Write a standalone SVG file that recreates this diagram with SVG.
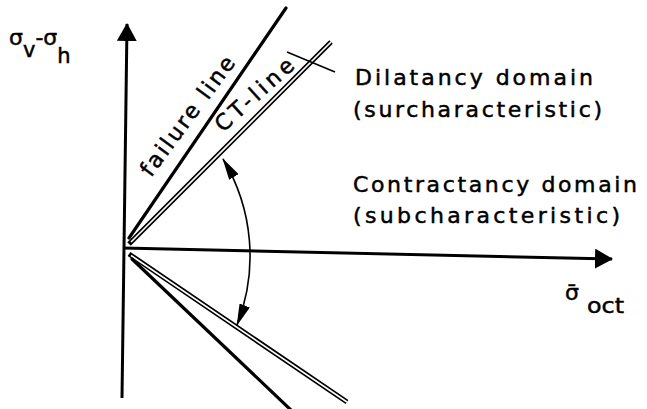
<svg xmlns="http://www.w3.org/2000/svg" width="647" height="409" viewBox="0 0 647 409">
  <style>
    .lbl { font-family: "DejaVu Sans", "Liberation Sans", sans-serif; font-size: 22px; fill: #000; stroke: #000; stroke-width: 0.5; }
    .axis { stroke: #000; stroke-width: 3; fill: none; }
    .thick { stroke: #000; stroke-width: 3.2; fill: none; stroke-linecap: round; }
    .dblo { stroke: #000; stroke-width: 5; fill: none; }
    .dbli { stroke: #fff; stroke-width: 1.6; fill: none; }
    .thin { stroke: #000; stroke-width: 1.6; fill: none; }
  </style>
  <defs>
    <marker id="axisHead" markerUnits="userSpaceOnUse" viewBox="0 0 18 20" refX="17" refY="10" markerWidth="18" markerHeight="20" orient="auto">
      <path d="M0,0 L18,10 L0,20 z" fill="#000"/>
    </marker>
    <marker id="arcHead" markerUnits="userSpaceOnUse" viewBox="0 0 22 11" refX="21" refY="5.5" markerWidth="22" markerHeight="11" orient="auto-start-reverse">
      <path d="M0,0 L22,5.5 L0,11 z" fill="#000"/>
    </marker>
  </defs>
  <rect width="647" height="409" fill="#fff"/>

  <g id="connectors">
    <!-- axes -->
    <line class="axis" x1="122" y1="398" x2="127" y2="24" marker-end="url(#axisHead)"/>
    <line class="axis" x1="123" y1="248" x2="612" y2="259" marker-end="url(#axisHead)"/>
    <!-- failure line (upper) -->
    <line class="thick" x1="129" y1="238" x2="286" y2="8"/>
    <!-- CT-line (upper, double) -->
    <line class="dblo" x1="129" y1="244" x2="331" y2="42"/>
    <line class="dbli" x1="131" y1="242" x2="331" y2="42"/>
    <!-- tick across CT-line -->
    <line class="thin" x1="287" y1="52" x2="335" y2="72"/>
    <!-- lower double line -->
    <line class="dblo" x1="129" y1="254" x2="347" y2="402"/>
    <line class="dbli" x1="131" y1="255.5" x2="347" y2="402"/>
    <!-- lower failure line -->
    <line class="thick" x1="132" y1="259" x2="292" y2="411"/>
    <!-- angle arc with arrowheads -->
    <path class="thin" d="M223,159 A188,188 0 0 1 237,325" marker-start="url(#arcHead)" marker-end="url(#arcHead)"/>
  </g>

  <g id="yaxis-label">
    <text class="lbl" x="9" y="45" font-size="25">σ<tspan dy="12" font-size="21">v</tspan><tspan dy="-12">-σ</tspan><tspan dy="18" font-size="21">h</tspan></text>
  </g>
  <g id="xaxis-label">
    <text class="lbl" x="565" y="300" font-size="25">σ̄</text>
    <text class="lbl" x="587" y="313" textLength="37" lengthAdjust="spacingAndGlyphs">oct</text>
  </g>
  <g id="failure-line-label">
    <text class="lbl" font-size="21" transform="translate(151,178) rotate(-53.5)" textLength="143" lengthAdjust="spacing">failure line</text>
  </g>
  <g id="ct-line-label">
    <text class="lbl" font-size="21" transform="translate(223,133) rotate(-42)" textLength="98" lengthAdjust="spacing">CT-line</text>
  </g>
  <g id="dilatancy">
    <text class="lbl" x="355" y="85" textLength="238" lengthAdjust="spacing">Dilatancy domain</text>
    <text class="lbl" x="353" y="117" textLength="249" lengthAdjust="spacing">(surcharacteristic)</text>
  </g>
  <g id="contractancy">
    <text class="lbl" x="353" y="192" textLength="284" lengthAdjust="spacing">Contractancy domain</text>
    <text class="lbl" x="353" y="223" textLength="267" lengthAdjust="spacing">(subcharacteristic)</text>
  </g>
</svg>
